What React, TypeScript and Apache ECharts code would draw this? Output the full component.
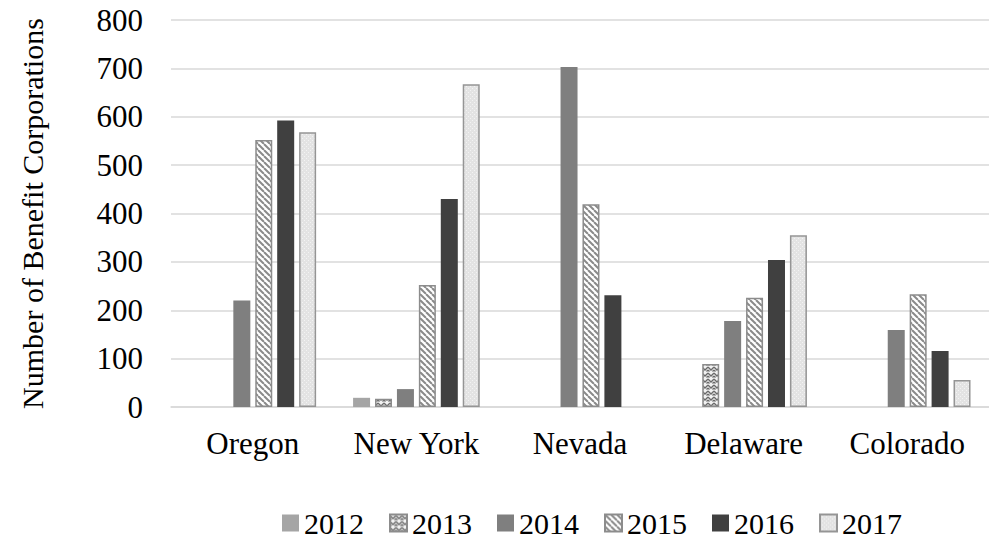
import React, { useEffect, useRef } from "react";
import * as echarts from "echarts";

const categories = ["Oregon", "New York", "Nevada", "Delaware", "Colorado"];
const years = ["2012", "2013", "2014", "2015", "2016", "2017"];
const v2012 = [null, 19, null, null, null];
const v2013 = [null, 17, null, 89, null];
const v2014 = [220, 37, 703, 178, 159];
const v2015 = [552, 252, 419, 226, 233];
const v2016 = [592, 430, 231, 304, 116];
const v2017 = [568, 667, null, 355, 56];
const seriesValues = [v2012, v2013, v2014, v2015, v2016, v2017];
const yTicks = [0, 100, 200, 300, 400, 500, 600, 700, 800];

const FONT = "'Liberation Serif', 'Times New Roman', serif";

function makePattern(size: number, draw: (ctx: CanvasRenderingContext2D, s: number) => void) {
  const c = document.createElement("canvas");
  c.width = size;
  c.height = size;
  const ctx = c.getContext("2d") as CanvasRenderingContext2D;
  draw(ctx, size);
  return { image: c.toDataURL(), imageWidth: size, imageHeight: size, repeat: "repeat" };
}

export default function App() {
  const ref = useRef<HTMLDivElement>(null);
  useEffect(() => {
    if (!ref.current) return;
    const chart = echarts.init(ref.current, undefined, { renderer: "svg" });

    const stripes = makePattern(6, (ctx, s) => {
      ctx.fillStyle = "#ffffff";
      ctx.fillRect(0, 0, s, s);
      ctx.strokeStyle = "#8a8a8a";
      ctx.lineWidth = 2;
      for (const k of [-s, 0, s]) {
        ctx.beginPath();
        ctx.moveTo(k, 0);
        ctx.lineTo(k + s, s);
        ctx.stroke();
      }
    });
    const zigzag = makePattern(6, (ctx, s) => {
      ctx.fillStyle = "#f2f2f2";
      ctx.fillRect(0, 0, s, s);
      ctx.strokeStyle = "#6a6a6a";
      ctx.lineWidth = 1.3;
      ctx.beginPath();
      ctx.moveTo(0, 1);
      ctx.lineTo(3, 4);
      ctx.lineTo(6, 1);
      ctx.stroke();
      ctx.beginPath();
      ctx.moveTo(0, 4);
      ctx.lineTo(1.5, 5.5);
      ctx.moveTo(4.5, 5.5);
      ctx.lineTo(6, 4);
      ctx.stroke();
    });
    const dots = makePattern(4, (ctx, s) => {
      ctx.fillStyle = "#e3e3e3";
      ctx.fillRect(0, 0, s, s);
      ctx.fillStyle = "#f3f3f3";
      ctx.fillRect(0, 0, 1, 1);
      ctx.fillRect(2, 2, 1, 1);
    });

    const styles: any[] = [
      { color: "#a5a5a5" },
      { color: zigzag, borderColor: "#8c8c8c", borderWidth: 1.5 },
      { color: "#7f7f7f" },
      { color: stripes, borderColor: "#8c8c8c", borderWidth: 1.5 },
      { color: "#404040" },
      { color: dots, borderColor: "#959595", borderWidth: 1.5 },
    ];

    chart.setOption({
      animation: false,
      grid: { left: 171, top: 20, width: 830, height: 387, containLabel: false },
      legend: {
        data: years,
        left: 277,
        top: 503,
        itemWidth: 17,
        itemHeight: 17,
        itemGap: 25,
        icon: "rect",
        textStyle: { fontFamily: FONT, fontSize: 30, color: "#000", lineHeight: 30 },
      },
      xAxis: {
        type: "category",
        data: categories,
        axisTick: { show: false },
        axisLine: { lineStyle: { color: "#d9d9d9", width: 1.5 } },
        axisLabel: { fontFamily: FONT, fontSize: 31, color: "#000", margin: 21, interval: 0 },
      },
      yAxis: {
        type: "value",
        min: yTicks[0],
        max: yTicks[yTicks.length - 1],
        interval: 100,
        name: "Number of Benefit Corporations",
        nameLocation: "middle",
        nameGap: 124,
        nameTextStyle: { fontFamily: FONT, fontSize: 30, color: "#000" },
        axisLine: { show: false },
        axisTick: { show: false },
        splitLine: { lineStyle: { color: "#d9d9d9", width: 1.5 } },
        axisLabel: { fontFamily: FONT, fontSize: 31, color: "#000", margin: 28 },
      },
      series: years.map((y, i) => ({
        name: y,
        type: "bar",
        data: seriesValues[i],
        barWidth: 17,
        barGap: "29%",
        itemStyle: styles[i],
      })),
    });
    return () => chart.dispose();
  }, []);
  return <div ref={ref} style={{ width: 989, height: 541, position: "absolute", left: 0, top: 0 }} />;
}
